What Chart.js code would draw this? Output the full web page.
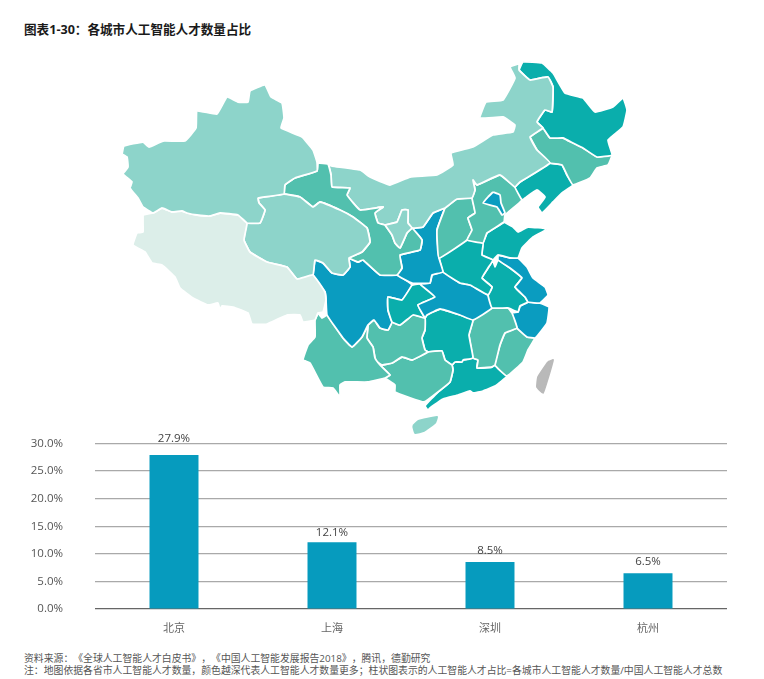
<!DOCTYPE html>
<html lang="zh">
<head>
<meta charset="utf-8">
<title>各城市人工智能人才数量占比</title>
<script src="https://cdn.jsdelivr.net/npm/chart.js@4"></script>
<style>
    html, body { margin: 0; padding: 0; background: #fff; }
    body { position: relative; width: 764px; height: 679px; overflow: hidden; font-family: "Open Sans", "Noto Sans CJK SC", sans-serif; text-spacing-trim: space-all; }
    #title { position: absolute; left: 24px; top: 21px; font-size: 12.6px; line-height: 18px; font-weight: 700; color: #1a1a1a; white-space: nowrap; }
    #mapWrap { position: absolute; left: 0; top: 40px; width: 764px; height: 400px; }
    #barWrap { position: absolute; left: 0; top: 430px; width: 764px; height: 210px; }
    #notes { position: absolute; left: 24px; top: 652px; font-size: 9.85px; line-height: 12px; color: #555; white-space: nowrap; }
</style>
</head>
<body>
<div id="title">图表1-30：各城市人工智能人才数量占比</div>
<div id="mapWrap"><canvas id="mapChart"></canvas></div>
<div id="barWrap"><canvas id="barChart"></canvas></div>
<div id="notes">资料来源：《全球人工智能人才白皮书》，《中国人工智能发展报告2018》，腾讯，德勤研究<br>注：地图依据各省市人工智能人才数量，颜色越深代表人工智能人才数量更多；柱状图表示的人工智能人才占比=各城市人工智能人才数量/中国人工智能人才总数</div>

<script>
// Bar chart data
const cities = ['北京', '上海', '深圳', '杭州'];
const shares = [27.9, 12.1, 8.5, 6.5];
const yTicks = [0, 5, 10, 15, 20, 25, 30];

// Province outlines as [x, y]; neighbours share vertices
const xinjiang = [[122,154],[124,146],[143,142],[149,147],[163,141],[185,141],[196,128],[197,111],[217,114],[227,97],[238,102],[248,102],[250,91],[265,85],[271,97],[282,103],[284,118],[281,128],[302,137],[313,150],[317,162],[317,171],[295,178],[285,185],[284,194],[258,198],[259,203],[265,210],[260,223],[247,223],[238,215],[220,213],[210,216],[197,215],[187,213],[182,211],[172,212],[162,208],[153,213],[143,207],[138,198],[130,188],[132,182],[123,174],[128,167],[127,157]];
const tibet = [[143,215],[153,213],[162,208],[172,212],[182,211],[187,213],[197,215],[210,216],[220,213],[238,215],[247,223],[244,240],[250,252],[267,262],[287,267],[297,279],[313,275],[325,292],[326,300],[323,312],[318,313],[315,320],[303,322],[300,315],[287,315],[267,324],[252,324],[248,313],[233,307],[222,306],[220,310],[218,303],[208,305],[193,298],[180,288],[175,277],[162,265],[152,263],[145,252],[133,245],[137,233],[143,232],[143,223]];
const qinghai = [[258,198],[284,194],[300,197],[313,207],[320,202],[340,210],[353,217],[367,228],[370,242],[362,252],[349,258],[350,267],[343,275],[332,273],[323,263],[315,260],[313,275],[297,279],[287,267],[267,262],[250,252],[244,240],[247,223],[260,223],[265,210],[259,203]];
const gansu = [[318,163],[328,164],[331,175],[332,187],[350,188],[347,195],[360,210],[383,207],[375,213],[378,223],[385,225],[392,235],[395,243],[400,248],[407,233],[412,228],[422,240],[420,250],[400,255],[402,268],[397,275],[380,275],[363,260],[358,262],[349,258],[362,252],[370,242],[367,228],[353,217],[340,210],[320,202],[313,207],[300,197],[284,194],[285,185],[295,178],[317,171]];
const ningxia = [[385,225],[397,222],[402,210],[408,210],[408,223],[412,228],[407,233],[400,248],[395,243],[392,235]];
const innerMongolia = [[318,163],[332,166],[360,170],[370,177],[390,185],[410,177],[437,175],[453,165],[451,153],[473,147],[493,135],[513,132],[515,125],[503,117],[480,118],[486,102],[503,100],[515,78],[510,67],[519,64],[519,70],[530,80],[548,77],[553,87],[552,112],[545,110],[537,122],[543,128],[530,137],[537,150],[550,163],[520,182],[515,187],[500,175],[477,185],[473,180],[475,190],[472,198],[457,199],[445,208],[433,213],[423,227],[412,228],[408,223],[408,210],[402,210],[397,222],[385,225],[378,223],[375,213],[383,207],[360,210],[347,195],[350,188],[332,187],[331,175],[328,164]];
const heilongjiang = [[519,70],[523,62],[542,63],[553,73],[565,93],[583,98],[595,112],[613,107],[623,98],[627,110],[623,127],[608,140],[612,155],[597,157],[583,148],[573,143],[563,138],[550,138],[543,128],[537,122],[545,110],[552,112],[553,87],[548,77],[530,80]];
const jilin = [[530,137],[543,128],[550,138],[563,138],[573,143],[583,148],[597,157],[612,155],[608,165],[597,168],[590,178],[573,185],[567,175],[562,165],[550,163],[537,150]];
const liaoning = [[550,163],[562,165],[567,175],[573,185],[562,193],[553,202],[542,213],[538,207],[545,197],[537,190],[525,198],[522,200],[515,187],[520,182]];
const hebei = [[473,180],[477,185],[500,175],[515,187],[522,200],[505,215],[504,222],[487,233],[483,243],[467,240],[472,230],[468,218],[475,213],[472,198],[475,190]];
const beijing = [[493,192],[500,195],[501,203],[505,213],[502,215],[497,207],[483,203],[488,197]];
const shanxi = [[445,208],[457,199],[472,198],[475,213],[468,218],[472,230],[467,240],[439,258],[437,230]];
const shaanxi = [[445,208],[433,213],[423,227],[412,228],[422,240],[420,250],[400,255],[402,268],[397,275],[412,283],[430,283],[432,275],[443,272],[439,258],[437,230]];
const henan = [[439,258],[467,240],[483,243],[482,255],[493,260],[488,268],[482,278],[492,287],[488,295],[470,285],[460,283],[443,272]];
const shandong = [[504,222],[513,227],[518,232],[528,227],[547,229],[533,237],[522,248],[518,258],[510,258],[498,255],[493,260],[482,255],[483,243],[487,233]];
const jiangsu = [[498,255],[510,258],[518,258],[527,267],[533,278],[545,287],[548,295],[540,303],[528,302],[525,297],[515,287],[522,278],[510,268],[498,260]];
const anhui = [[493,260],[495,267],[498,260],[510,268],[522,278],[515,287],[525,297],[528,302],[520,306],[518,312],[508,308],[492,308],[488,295],[492,287],[482,278],[488,268]];
const hubei = [[432,275],[443,272],[460,283],[470,285],[488,295],[492,308],[473,320],[460,315],[440,309],[427,315],[425,318],[418,305],[435,297],[420,284],[430,283]];
const chongqing = [[412,285],[420,284],[435,297],[418,305],[425,318],[413,315],[400,325],[392,322],[388,310],[388,297],[402,300]];
const sichuan = [[315,260],[323,263],[332,273],[343,275],[350,267],[349,258],[358,262],[363,260],[380,275],[397,275],[412,285],[402,300],[388,297],[388,310],[392,322],[388,330],[380,328],[374,320],[368,325],[362,337],[352,347],[343,338],[327,315],[326,300],[325,292],[313,275]];
const yunnan = [[318,313],[322,318],[327,315],[343,338],[352,347],[362,337],[368,325],[367,338],[373,347],[375,358],[380,365],[390,375],[385,378],[368,382],[355,382],[345,382],[340,385],[340,397],[333,388],[323,387],[310,363],[303,360],[308,345],[315,337],[315,320]];
const guizhou = [[368,325],[374,320],[380,328],[388,330],[392,322],[400,325],[413,315],[425,318],[425,330],[422,338],[425,350],[428,352],[412,360],[402,357],[392,363],[382,365],[377,362],[375,358],[373,347],[367,338]];
const guangxi = [[377,362],[382,365],[392,363],[402,357],[412,360],[428,352],[442,351],[445,360],[452,365],[453,370],[450,382],[438,392],[424,402],[395,392],[395,385],[385,378],[390,375],[380,365]];
const hunan = [[425,318],[427,315],[440,309],[460,315],[473,320],[469,335],[473,358],[463,360],[462,362],[455,362],[452,365],[445,360],[442,351],[428,352],[425,350],[422,338],[425,330]];
const jiangxi = [[473,320],[492,308],[508,308],[512,313],[517,328],[505,333],[500,345],[495,365],[492,367],[477,368],[478,360],[473,358],[469,335]];
const zhejiang = [[520,306],[528,302],[540,303],[549,307],[547,323],[538,335],[535,338],[527,337],[517,328],[512,313],[518,312]];
const fujian = [[517,328],[527,337],[535,338],[528,350],[523,362],[507,376],[495,365],[500,345],[505,333]];
const guangdong = [[452,365],[455,362],[462,362],[463,360],[473,358],[478,360],[477,368],[492,367],[495,365],[507,376],[495,386],[483,391],[473,393],[470,391],[458,395],[443,399],[434,405],[429,409],[430,413],[425,406],[438,392],[450,382],[453,370]];
const hainan = [[413,426],[418,421],[437,417],[435,423],[424,431],[415,433]];
const taiwan = [[548,362],[553,360],[548,378],[543,393],[537,387],[538,377]];

// Shade groups
const palest = '#dceee9';
const light = '#8dd4ca';
const mid = '#52c0ae';
const teal = '#0aaeac';
const blue = '#0a9cc0';
const grey = '#b9b9b9';

const mapRegions = [
    [beijing, blue], [ningxia, light], [xinjiang, light], [tibet, palest], [qinghai, light],
    [gansu, mid], [innerMongolia, light], [heilongjiang, teal], [jilin, mid], [liaoning, teal],
    [hebei, mid], [shanxi, mid], [shaanxi, blue], [henan, teal], [shandong, teal],
    [jiangsu, blue], [anhui, teal], [hubei, blue], [chongqing, teal], [sichuan, blue],
    [yunnan, mid], [guizhou, mid], [guangxi, mid], [hunan, teal], [jiangxi, mid],
    [zhejiang, blue], [fujian, mid], [guangdong, teal], [hainan, light], [taiwan, grey]
];

const fontFamily = '"Open Sans", "Noto Sans CJK SC", sans-serif';
// Distance from bar top to the middle of its value label
const labelLift = [16, 10, 11, 11];

// Value labels above the bars
const barLabels = {
    id: 'barLabels',
    afterDatasetsDraw(chart) {
        const ctx = chart.ctx;
        ctx.save();
        ctx.font = '11.5px ' + fontFamily;
        ctx.fillStyle = '#444';
        ctx.textAlign = 'center';
        ctx.textBaseline = 'middle';
        chart.getDatasetMeta(0).data.forEach((bar, i) => {
            ctx.fillText(shares[i].toFixed(1) + '%', bar.x, bar.y - labelLift[i]);
        });
        ctx.restore();
    }
};

// The map is a scatter chart whose scales run in picture coordinates
new Chart(document.getElementById('mapChart'), {
    type: 'scatter',
    data: {
        datasets: mapRegions.map(([outline, colour]) => ({
            data: outline.concat([outline[0]]).map(p => ({ x: p[0], y: p[1] })),
            showLine: true,
            fill: 'shape',
            backgroundColor: colour,
            // The islands have no neighbours, so no white edge
            borderColor: (outline === taiwan || outline === hainan) ? colour : '#fff',
            borderWidth: 1.8,
            borderJoinStyle: 'round',
            tension: 0.1,
            pointRadius: 0,
            clip: false
        }))
    },
    options: {
        responsive: true,
        maintainAspectRatio: false,
        animation: false,
        events: [],
        layout: { padding: 0 },
        plugins: { legend: { display: false }, tooltip: { enabled: false } },
        scales: {
            x: { type: 'linear', display: false, min: 0, max: 764 },
            y: { type: 'linear', display: false, min: 40, max: 440, reverse: true }
        }
    }
});

new Chart(document.getElementById('barChart'), {
    type: 'bar',
    data: {
        labels: cities,
        datasets: [{
            data: shares,
            backgroundColor: '#069bbe',
            categoryPercentage: 0.31,
            barPercentage: 1
        }]
    },
    options: {
        responsive: true,
        maintainAspectRatio: false,
        animation: false,
        events: [],
        layout: { padding: { left: 0, right: 37, top: 13.5, bottom: 0 } },
        plugins: { legend: { display: false }, tooltip: { enabled: false } },
        scales: {
            x: {
                afterFit(scale) {
                    scale.height = 31;
                    scale.paddingLeft = 0;
                    scale.paddingRight = 0;
                },
                grid: { display: false },
                border: { display: false },
                ticks: { color: '#666', font: { family: fontFamily, size: 11 }, padding: 5 }
            },
            y: {
                min: 0,
                max: 30,
                afterFit(scale) {
                    scale.width = 95;
                    scale.paddingTop = 0;
                    scale.paddingBottom = 0;
                },
                afterBuildTicks(scale) { scale.ticks = yTicks.map(v => ({ value: v })); },
                grid: {
                    drawTicks: false,
                    lineWidth: 1.2,
                    color: ctx => ctx.tick.value === 0 ? '#666' : '#a9a9a9'
                },
                border: { display: false },
                ticks: {
                    color: '#555',
                    padding: 32,
                    font: { family: fontFamily, size: 11.5 },
                    callback: v => v.toFixed(1) + '%'
                }
            }
        }
    },
    plugins: [barLabels]
});
</script>
</body>
</html>
